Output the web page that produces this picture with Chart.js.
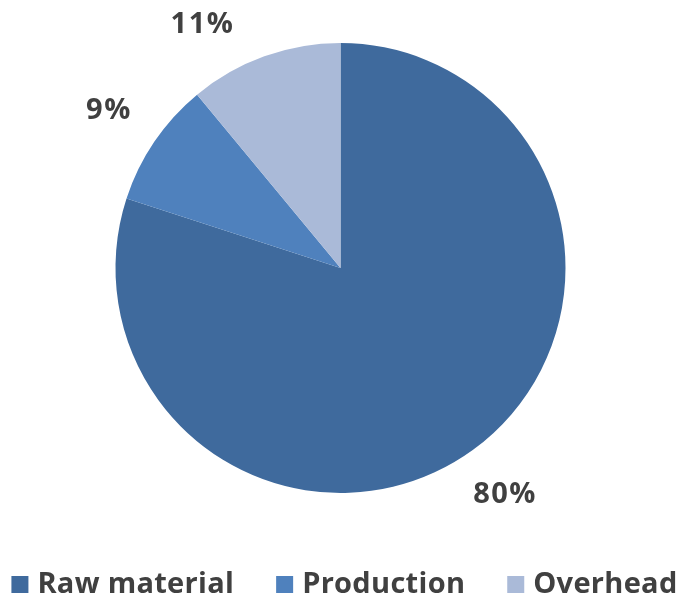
<!DOCTYPE html>
<html>
<head>
<meta charset="utf-8">
<script src="https://cdn.jsdelivr.net/npm/chart.js@4"></script>
<style>
  html, body { margin: 0; padding: 0; background: #fff; }
  #costSplit { display: block; }
</style>
</head>
<body>
<canvas id="costSplit" width="681" height="598"></canvas>
<script>
const categories = ['Raw material', 'Production', 'Overhead'];
const shares = [80, 9, 11];
const sliceColors = ['#3F6A9D', '#4F81BD', '#AABAD8'];

const FONT = '"Open Sans", "DejaVu Sans", sans-serif';
const TEXT_COLOR = '#404040';

// percentage labels just outside each slice
const outsideLabels = {
    id: 'outsideLabels',
    afterDatasetsDraw(chart) {
        const ctx = chart.ctx;
        const meta = chart.getDatasetMeta(0);
        ctx.save();
        ctx.font = 'bold 29px ' + FONT;
        ctx.letterSpacing = '1.5px';
        ctx.fillStyle = TEXT_COLOR;
        ctx.textAlign = 'center';
        ctx.textBaseline = 'middle';
        meta.data.forEach((arc, i) => {
            const p = arc.getProps(['x', 'y', 'startAngle', 'endAngle', 'outerRadius'], true);
            let a = (p.startAngle + p.endAngle) / 2;
            const d = p.outerRadius + 55;
            let x = p.x + Math.cos(a) * d;
            let y = p.y + Math.sin(a) * d;
            // slide along the ring until the text fits below the top edge
            const step = Math.cos(a) < 0 ? -0.01 : 0.01;
            while (y < 24) {
                a += step;
                x = p.x + Math.cos(a) * d;
                y = p.y + Math.sin(a) * d;
            }
            ctx.fillText(shares[i] + '%', x, y);
        });
        ctx.restore();
    }
};

// legend row along the bottom
const bottomLegend = {
    id: 'bottomLegend',
    afterDraw(chart) {
        const ctx = chart.ctx;
        const box = 17, gap = 9, spacing = 42;
        ctx.save();
        ctx.font = 'bold 29px ' + FONT;
        ctx.letterSpacing = '0.3px';
        const widths = categories.map(c => ctx.measureText(c).width);
        const total = widths.reduce((s, w) => s + box + gap + w, 0) + spacing * (categories.length - 1);
        let x = (chart.width - total) / 2 + 4;
        const boxTop = 576;
        ctx.textBaseline = 'alphabetic';
        ctx.textAlign = 'left';
        categories.forEach((c, i) => {
            ctx.fillStyle = sliceColors[i];
            ctx.fillRect(x, boxTop, box, box);
            ctx.fillStyle = TEXT_COLOR;
            ctx.fillText(c, x + box + gap, 593);
            x += box + gap + widths[i] + spacing;
        });
        ctx.restore();
    }
};

new Chart(document.getElementById('costSplit'), {
    type: 'pie',
    data: {
        labels: categories,
        datasets: [{
            data: shares,
            backgroundColor: sliceColors,
            borderWidth: 0
        }]
    },
    options: {
        responsive: false,
        animation: false,
        layout: {
            padding: { top: 43, bottom: 105, left: 0, right: 0 }
        },
        plugins: {
            legend: { display: false },
            tooltip: { enabled: false }
        }
    },
    plugins: [outsideLabels, bottomLegend]
});
</script>
</body>
</html>
